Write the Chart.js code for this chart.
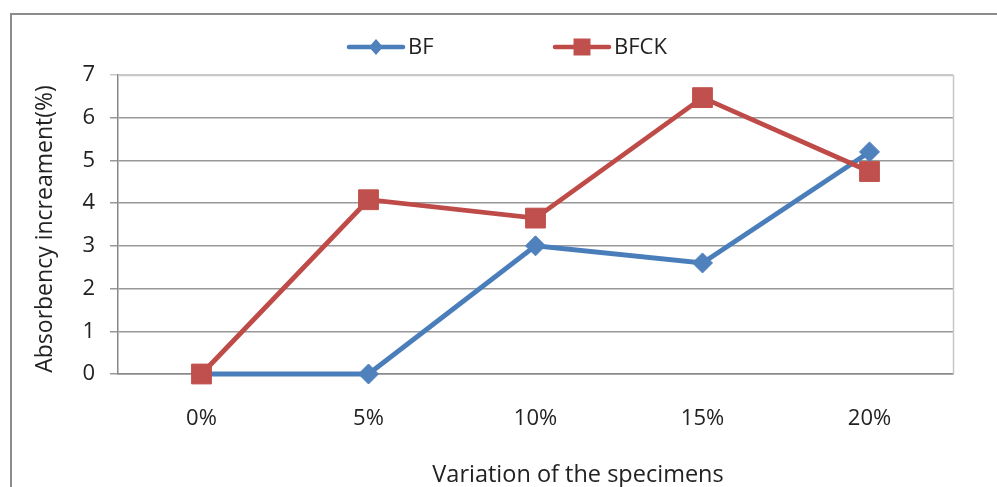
<!DOCTYPE html>
<html>
<head>
<meta charset="utf-8">
<script src="https://cdn.jsdelivr.net/npm/chart.js@4"></script>
<style>
  html, body { margin: 0; padding: 0; background: #fff; }
  #wrap { width: 997px; height: 487px; position: relative; }
</style>
</head>
<body>
<div id="wrap"><canvas id="absChart"></canvas></div>
<script>
// ==== Data ====
const categories = ["0%", "5%", "10%", "15%", "20%"];
const bfValues = [0, 0, 3, 2.6, 5.2];
const bfckValues = [0, 4.08, 3.65, 6.47, 4.74];
const yTicks = [0, 1, 2, 3, 4, 5, 6, 7];
const xTitle = "Variation of the specimens";
const yTitle = "Absorbency increament(%)";

const blue = "#4a7ebb";
const red = "#be4b48";
const font = "'Open Sans', 'Liberation Sans', sans-serif";

// ==== Frame + plot border ====
const framePlugin = {
  id: "frame",
  beforeDraw(chart) {
    const ctx = chart.ctx;
    ctx.save();
    ctx.fillStyle = "#fff";
    ctx.fillRect(0, 0, chart.width, chart.height);
    ctx.strokeStyle = "#8c8c8c";
    ctx.lineWidth = 2;
    ctx.beginPath();
    ctx.moveTo(11, chart.height + 2);
    ctx.lineTo(11, 14);
    ctx.lineTo(chart.width + 2, 14);
    ctx.stroke();
    ctx.restore();
  },
  beforeDatasetsDraw(chart) {
    const { ctx, chartArea: a } = chart;
    ctx.save();
    ctx.strokeStyle = "#c8c8c8";
    ctx.lineWidth = 1.5;
    ctx.beginPath();
    ctx.moveTo(a.left, a.top + 0.5);
    ctx.lineTo(a.right + 0.5, a.top + 0.5);
    ctx.lineTo(a.right + 0.5, a.bottom);
    ctx.stroke();
    ctx.restore();
  }
};

// ==== Axis titles (the office chart places them a bit off-centre) ====
const titlePlugin = {
  id: "axisTitles",
  afterDraw(chart) {
    const ctx = chart.ctx;
    ctx.save();
    ctx.fillStyle = "#222";
    ctx.textAlign = "center";
    ctx.textBaseline = "middle";
    ctx.font = "23.5px " + font;
    ctx.fillText(xTitle, 578, 475);
    ctx.translate(45, 229);
    ctx.rotate(-Math.PI / 2);
    ctx.font = "23px " + font;
    ctx.fillText(yTitle, 0, 0);
    ctx.restore();
  }
};

// ==== Legend (line through marker) ====
const legendPlugin = {
  id: "lineLegend",
  afterDraw(chart) {
    const ctx = chart.ctx;
    const items = [
      { ds: chart.data.datasets[0], x: 349 },
      { ds: chart.data.datasets[1], x: 555 }
    ];
    const y = 47;
    ctx.save();
    items.forEach(it => {
      ctx.strokeStyle = it.ds.borderColor;
      ctx.lineWidth = 4.5;
      ctx.lineCap = "round";
      ctx.beginPath();
      ctx.moveTo(it.x, y);
      ctx.lineTo(it.x + 54, y);
      ctx.stroke();
      ctx.fillStyle = it.ds.pointBackgroundColor;
      const cx = it.x + 27;
      ctx.beginPath();
      if (it.ds.pointStyle === "rectRot") {
        ctx.moveTo(cx, y - 8);
        ctx.lineTo(cx + 7, y);
        ctx.lineTo(cx, y + 8);
        ctx.lineTo(cx - 7, y);
        ctx.closePath();
      } else {
        ctx.rect(cx - 8.5, y - 8.5, 17, 17);
      }
      ctx.fill();
      ctx.fillStyle = "#222";
      ctx.font = "22px " + font;
      ctx.textBaseline = "middle";
      ctx.textAlign = "left";
      ctx.fillText(it.ds.label, it.x + 59, y + 1);
    });
    ctx.restore();
  }
};

new Chart(document.getElementById("absChart"), {
  type: "line",
  data: {
    labels: categories,
    datasets: [
      {
        label: "BF",
        data: bfValues,
        order: 1,
        clip: false,
        borderColor: blue,
        backgroundColor: blue,
        pointBackgroundColor: "#4f81bd",
        pointBorderColor: "#4f81bd",
        pointStyle: "rectRot",
        pointRadius: 10,
        pointBorderWidth: 1,
        borderWidth: 4.8,
        tension: 0,
        fill: false
      },
      {
        label: "BFCK",
        data: bfckValues,
        order: 0,
        clip: false,
        borderColor: red,
        backgroundColor: red,
        pointBackgroundColor: "#c0504d",
        pointBorderColor: "#c0504d",
        pointStyle: "rect",
        pointRadius: 14,
        pointBorderWidth: 1,
        borderWidth: 4.8,
        tension: 0,
        fill: false
      }
    ]
  },
  options: {
    responsive: true,
    maintainAspectRatio: false,
    animation: false,
    layout: { padding: { top: 75, right: 44, left: 0, bottom: 0 } },
    plugins: {
      legend: { display: false },
      tooltip: { enabled: false }
    },
    scales: {
      x: {
        offset: true,
        grid: { display: false },
        border: { display: true, color: "#888", width: 1.5 },
        ticks: {
          color: "#222",
          padding: 24,
          font: { family: font, size: 22 }
        },
        title: { display: false, text: xTitle },
        afterFit(scale) { scale.height = 113; }
      },
      y: {
        min: 0,
        max: 7,
        afterBuildTicks(scale) { scale.ticks = yTicks.map(v => ({ value: v })); },
        grid: {
          color: ctx => (ctx.tick && ctx.tick.value === 7 ? "#c8c8c8" : "#989898"),
          lineWidth: 1.5,
          tickLength: 8,
          drawTicks: true
        },
        border: { display: true, color: "#888", width: 1.5 },
        ticks: {
          color: "#222",
          padding: 15,
          font: { family: font, size: 22 }
        },
        title: { display: false, text: yTitle },
        afterFit(scale) { scale.width = 118; }
      }
    }
  },
  plugins: [framePlugin, titlePlugin, legendPlugin]
});
</script>
</body>
</html>
